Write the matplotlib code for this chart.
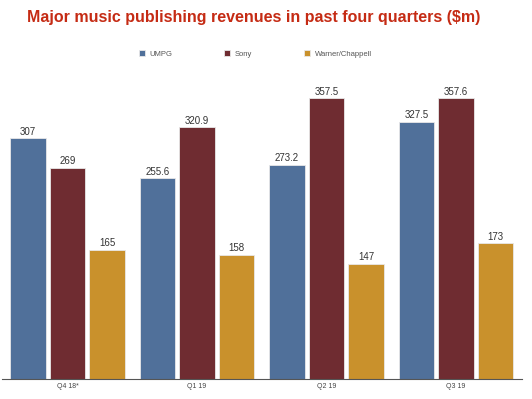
import numpy as np
import matplotlib.pyplot as plt

# Quarterly revenues ($m)
quarters = ['Q4 18*', 'Q1 19', 'Q2 19', 'Q3 19']
umpg = [307, 255.6, 273.2, 327.5]
sony = [269, 320.9, 357.5, 357.6]
warner = [165, 158, 147, 173]
labels = ['UMPG', 'Sony', 'Warner/Chappell']
umpg_txt = ['307', '255.6', '273.2', '327.5']
sony_txt = ['269', '320.9', '357.5', '357.6']
warner_txt = ['165', '158', '147', '173']

colors = ['#50709a', '#6f2c31', '#c9912c']

plt.rcParams['font.family'] = ['Liberation Sans', 'DejaVu Sans']

fig = plt.figure(figsize=(5.32, 3.99), dpi=100)
ax = fig.add_axes([0.004, 0.05, 0.977, 0.72])

x = np.arange(len(quarters))
width = 0.275
offset = 0.305

series = [(umpg, umpg_txt), (sony, sony_txt), (warner, warner_txt)]
for i, (vals, txts) in enumerate(series):
    pos = x + (i - 1) * offset
    bars = ax.bar(pos, vals, width, color=colors[i], label=labels[i],
                  edgecolor='#e8e8e8', linewidth=0.6, zorder=2)
    for b, t in zip(bars, txts):
        ax.text(b.get_x() + b.get_width() / 2, b.get_height() + 2, t,
                ha='center', va='bottom', fontsize=7, color='#333333')

ax.set_xlim(-0.505, 3.51)
ax.set_ylim(0, 366)
ax.set_xticks(x)
ax.set_xticklabels(quarters, fontsize=5, color='#444444')
ax.tick_params(axis='x', length=0, pad=3)
ax.set_yticks([])
for s in ['top', 'right', 'left']:
    ax.spines[s].set_visible(False)
ax.spines['bottom'].set_color('#555555')
ax.spines['bottom'].set_linewidth(0.8)

fig.text(0.476, 0.955, 'Major music publishing revenues in past four quarters ($m)',
         ha='center', va='center', fontsize=11.5, fontweight='bold', color='#c52b14')

fig.legend(loc='center', bbox_to_anchor=(0.48, 0.865), ncol=3, frameon=False,
           fontsize=5.5, handlelength=0.8, handleheight=0.8, columnspacing=6.8,
           handletextpad=0.6, labelcolor='#555555')

plt.savefig('out.png', dpi=100)
